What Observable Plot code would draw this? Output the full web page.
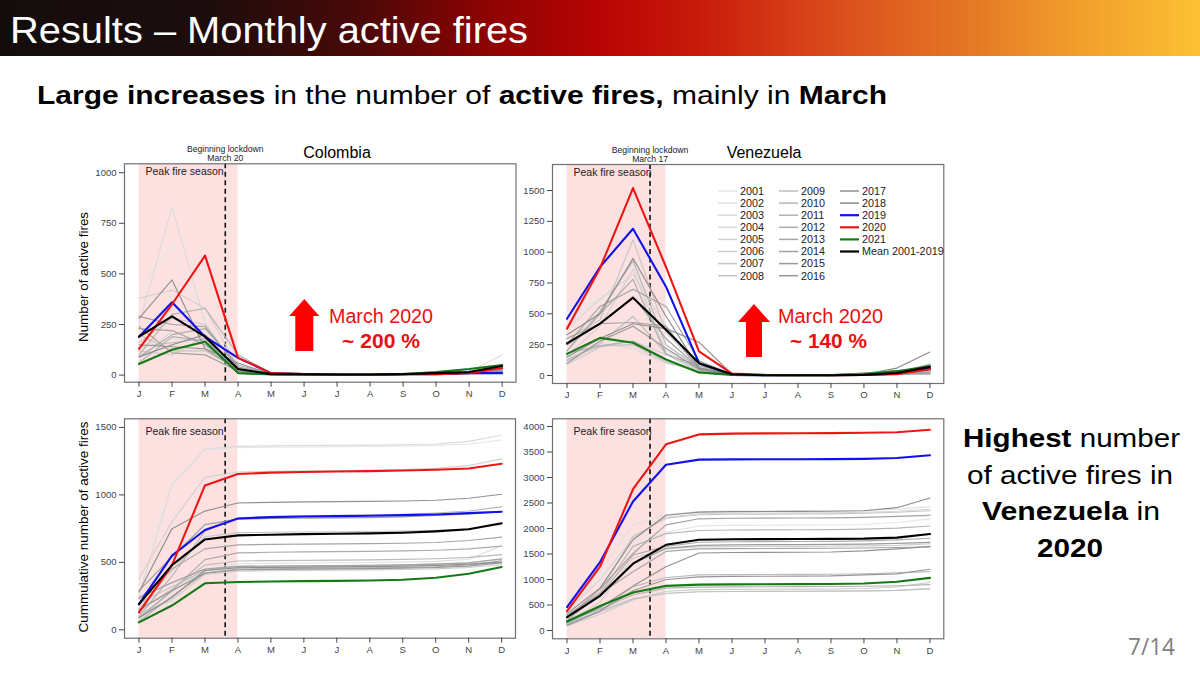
<!DOCTYPE html>
<html><head><meta charset="utf-8">
<script src="https://cdn.jsdelivr.net/npm/d3@7"></script>
<script src="https://cdn.jsdelivr.net/npm/@observablehq/plot@0.6"></script>
<style>
html,body{margin:0;padding:0;}
body{width:1200px;height:675px;position:relative;overflow:hidden;background:#fff;font-family:"Liberation Sans",Arial,sans-serif;}
#header{position:absolute;left:0;top:0;width:1200px;height:56px;
 background:linear-gradient(90deg,#140c0c 0%,#1c0d0d 17%,#4a0808 30%,#8a0303 40%,#b80404 50%,#c81a0a 58%,#d8451a 68%,#e47524 80%,#f2a22c 91%,#fcc133 100%);}
.panel{position:absolute;}
#overlay{position:absolute;left:0;top:0;pointer-events:none;}
</style></head><body>
<div id="header"></div>
<div id="p1" class="panel" style="left:60px;top:140px"></div>
<div id="p2" class="panel" style="left:500px;top:140px"></div>
<div id="p3" class="panel" style="left:60px;top:400px"></div>
<div id="p4" class="panel" style="left:500px;top:400px"></div>
<svg id="overlay" width="1200" height="675"></svg>
<script>
// ---------------- DATA ----------------
const monthLabels = ["J","F","M","A","M","J","J","A","S","O","N","D"];
const greyYears = ["2001","2002","2003","2004","2005","2006","2007","2008","2009","2010","2011","2012","2013","2014","2015","2016","2017","2018"];

// Monthly active fires, Colombia, 2001-2018 (one row per year, J..D)
const colombiaGrey = [
  [420,640,270,20,3,2,2,2,3,5,10,30],
  [100,180,170,40,3,2,2,2,3,5,15,100],
  [250,830,260,20,3,2,2,2,3,5,20,45],
  [70,220,150,20,3,2,2,2,3,5,5,10],
  [380,420,330,40,5,3,2,2,5,10,20,50],
  [120,100,190,25,3,2,2,2,3,5,10,20],
  [160,280,250,30,3,2,2,2,3,5,10,35],
  [200,120,120,30,3,2,2,2,3,5,10,25],
  [140,160,180,30,3,2,2,2,3,5,10,20],
  [100,300,330,100,10,5,3,3,5,10,15,30],
  [60,190,170,30,3,2,2,2,3,5,15,30],
  [90,200,230,50,5,3,2,2,3,5,10,20],
  [230,220,150,30,3,2,2,2,3,5,15,25],
  [240,110,100,20,3,2,2,2,3,5,10,30],
  [290,250,240,40,5,3,2,2,5,10,10,20],
  [150,140,130,25,3,2,2,2,3,5,10,25],
  [280,470,130,60,5,3,2,2,3,5,15,30],
  [90,150,200,20,3,2,2,2,3,5,10,15]
];
const colombia2019 = [190,360,190,85,10,5,3,2,5,5,10,10];
const colombia2020 = [130,350,590,85,10,5,3,3,5,5,10,35];
const colombia2021 = [55,125,165,10,3,3,2,3,5,15,30,50];
const colombiaMean = [190,290,190,30,5,4,3,3,5,10,15,45];

// Monthly active fires, Venezuela, 2001-2018
const venezuelaGrey = [
  [400,650,680,200,120,10,3,2,3,10,40,70],
  [560,600,910,200,60,10,3,2,3,10,20,50],
  [140,260,220,100,40,5,3,2,3,5,10,40],
  [380,620,820,400,70,10,3,2,3,10,20,40],
  [160,400,860,180,40,5,3,2,3,5,10,30],
  [90,230,280,170,30,5,3,2,3,10,30,90],
  [300,450,1100,350,70,10,3,2,3,10,20,30],
  [130,240,250,110,30,5,2,2,3,5,10,30],
  [120,260,480,180,50,5,3,2,3,10,20,20],
  [200,520,930,250,60,10,3,2,3,10,20,40],
  [180,240,280,130,20,5,3,2,3,5,10,20],
  [200,500,780,170,80,10,3,2,3,10,20,30],
  [300,420,430,400,50,5,3,2,3,5,10,10],
  [250,560,700,560,120,10,3,2,3,10,20,20],
  [250,420,640,300,60,10,3,2,3,5,15,20],
  [100,280,400,220,50,10,3,2,5,20,20,90],
  [150,300,420,380,270,10,3,2,5,20,40,50],
  [330,500,950,480,60,10,3,2,3,10,60,190]
];
const venezuela2019 = [460,880,1190,720,100,5,2,2,2,5,15,55];
const venezuela2020 = [380,870,1520,880,195,15,5,3,3,5,10,50];
const venezuela2021 = [175,305,265,130,25,5,2,2,3,10,35,75];
const venezuelaMean = [260,420,630,370,100,10,2,2,2,5,20,70];

const highlightNames = ["2019","2020","2021","Mean 2001-2019"];
const highlightColors = ["#1010f0","#ee1515","#157a15","#000000"];

const peakSeason = [{from: 0, to: 3}];            // J .. A (month index)
const lockdownDay = {Colombia: 20, Venezuela: 17}; // March day
const yTicksMonthlyCol = [0,250,500,750,1000];
const yTicksMonthlyVen = [0,250,500,750,1000,1250,1500];
const yTicksCumCol = [0,500,1000,1500];
const yTicksCumVen = [0,500,1000,1500,2000,2500,3000,3500,4000];

// ---------------- DRAWING ----------------
const greyShade = i => d3.interpolateRgb("#e6e6e6", "#8c8c8c")(i / (greyYears.length - 1));
const lockX = day => 2 + (day - 1) / 31;

function drawPanel(cfg) {
  const toV = arr => cfg.cumulative ? Array.from(d3.cumsum(arr)) : arr;
  const marks = [];
  marks.push(Plot.rect(peakSeason, {x1: "from", x2: "to", fill: "#fde1e1"}));
  marks.push(Plot.ruleX([lockX(cfg.day)], {stroke: "#111", strokeWidth: 1.6, strokeDasharray: "5,3.5"}));
  cfg.grey.forEach((arr, i) => {
    const rows = toV(arr).map((v, m) => ({m, v}));
    marks.push(Plot.line(rows, {x: "m", y: "v", stroke: greyShade(i), strokeWidth: 1.15}));
  });
  cfg.colored.forEach((arr, i) => {
    const rows = toV(arr).map((v, m) => ({m, v}));
    marks.push(Plot.line(rows, {x: "m", y: "v", stroke: highlightColors[i], strokeWidth: 2.1}));
  });
  marks.push(Plot.frame({stroke: "#707070", strokeWidth: 1.2}));
  marks.push(Plot.axisX(d3.range(12), {tickFormat: i => monthLabels[i], tickSize: 5, tickPadding: 3, label: null, fontSize: 9.5}));
  marks.push(Plot.axisY(cfg.yTicks, {tickFormat: d => String(d), tickSize: 5, tickPadding: 3, label: null, fontSize: 9.5}));
  marks.push(Plot.text(["Peak fire season"], {frameAnchor: "top-left", dx: 21, dy: cfg.peakDy, textAnchor: "start", lineAnchor: "top", fontSize: 10.5, fill: "#222"}));
  if (cfg.lockText) {
    marks.push(Plot.text([{x: lockX(cfg.day), t: cfg.lockText}], {x: "x", text: "t", frameAnchor: "top", lineAnchor: "bottom", dy: -3, lineHeight: 1.0, fontSize: 8.6, fill: "#222"}));
  }
  const svg = Plot.plot({
    width: cfg.width, height: cfg.height,
    marginLeft: cfg.ml, marginRight: cfg.mr, marginTop: cfg.mt, marginBottom: cfg.mb,
    x: {domain: [-0.44, 11.42]},
    y: {domain: cfg.yDomain},
    style: {fontFamily: "'Liberation Sans', Arial, sans-serif", fontSize: "9.5px", color: "#444", background: "transparent", overflow: "visible"},
    marks
  });
  document.getElementById(cfg.el).appendChild(svg);
}

drawPanel({el: "p1", width: 460, height: 265, ml: 64, mr: 4.5, mt: 23.3, mb: 23.3, yDomain: [-35, 1044], yTicks: yTicksMonthlyCol,
  grey: colombiaGrey, colored: [colombia2019, colombia2020, colombia2021, colombiaMean], cumulative: false,
  day: lockdownDay.Colombia, lockText: "Beginning lockdown\nMarch " + lockdownDay.Colombia, peakDy: 4});
drawPanel({el: "p2", width: 460, height: 265, ml: 52, mr: 16.7, mt: 24, mb: 22, yDomain: [-65, 1711], yTicks: yTicksMonthlyVen,
  grey: venezuelaGrey, colored: [venezuela2019, venezuela2020, venezuela2021, venezuelaMean], cumulative: false,
  day: lockdownDay.Venezuela, lockText: "Beginning lockdown\nMarch " + lockdownDay.Venezuela, peakDy: 4});
drawPanel({el: "p3", width: 460, height: 260, ml: 64, mr: 5, mt: 18.3, mb: 22.3, yDomain: [-62, 1564], yTicks: yTicksCumCol,
  grey: colombiaGrey, colored: [colombia2019, colombia2020, colombia2021, colombiaMean], cumulative: true,
  day: lockdownDay.Colombia, lockText: null, peakDy: 9});
drawPanel({el: "p4", width: 460, height: 260, ml: 52, mr: 16.7, mt: 18.3, mb: 21.7, yDomain: [-163, 4151], yTicks: yTicksCumVen,
  grey: venezuelaGrey, colored: [venezuela2019, venezuela2020, venezuela2021, venezuelaMean], cumulative: true,
  day: lockdownDay.Venezuela, lockText: null, peakDy: 9});

// ---------------- OVERLAY TEXT ----------------
const ov = d3.select("#overlay");
const F = "'Liberation Sans', Arial, sans-serif";
function txt(x, y, parts, o) {
  const t = ov.append("text").attr("x", x).attr("y", y)
    .attr("font-family", o.font || F).attr("font-size", o.size).attr("fill", o.fill || "#000")
    .attr("text-anchor", o.anchor || "start");
  if (o.len) t.attr("textLength", o.len).attr("lengthAdjust", "spacingAndGlyphs");
  if (o.transform) t.attr("transform", o.transform);
  parts.forEach(p => t.append("tspan").attr("font-weight", p[1] ? "bold" : "normal").text(p[0]));
  return t;
}
txt(10, 43, [["Results – Monthly active fires", 0]], {size: 37.5, fill: "#fff", len: 518});
txt(37, 104, [["Large increases", 1], [" in the number of ", 0], ["active fires,", 1], [" mainly in ", 0], ["March", 1]], {size: 25, len: 850});

txt(963, 447, [["Highest", 1], [" number", 0]], {size: 26, len: 217});
txt(967, 484, [["of active fires in", 0]], {size: 26, len: 206});
txt(982, 520, [["Venezuela", 1], [" in", 0]], {size: 26, len: 178});
txt(1037, 557, [["2020", 1]], {size: 26, len: 66});
txt(1128, 655, [["7/14", 0]], {size: 24, fill: "#7f7f7f", len: 47, font: "'Open Sans', Lato, sans-serif"});

txt(337, 158, [["Colombia", 0]], {size: 16, anchor: "middle"});
txt(764, 158, [["Venezuela", 0]], {size: 16, anchor: "middle"});
txt(0, 0, [["Number of active fires", 0]], {size: 13.5, anchor: "middle", len: 130, transform: "translate(88,277) rotate(-90)"});
txt(0, 0, [["Cummulative number of active fires", 0]], {size: 13.5, anchor: "middle", len: 211, transform: "translate(88,527) rotate(-90)"});

// Arrows & annotations
function arrow(cx, tip, headBase, bottom, halfHead, halfShaft) {
  const pts = [[cx, tip], [cx + halfHead, headBase], [cx + halfShaft, headBase], [cx + halfShaft, bottom],
    [cx - halfShaft, bottom], [cx - halfShaft, headBase], [cx - halfHead, headBase]];
  ov.append("polygon").attr("points", pts.map(p => p.join(",")).join(" ")).attr("fill", "#ff0000");
}
arrow(304.3, 299, 316, 351, 15, 9);
arrow(754, 304, 322, 357, 16, 8);
txt(329, 323, [["March 2020", 0]], {size: 20, fill: "#e81010", len: 104});
txt(342, 348, [["~ 200 %", 1]], {size: 21, fill: "#e81010", len: 78});
txt(778, 323, [["March 2020", 0]], {size: 20, fill: "#e81010", len: 105});
txt(790, 348, [["~ 140 %", 1]], {size: 21, fill: "#e81010", len: 77});

// Legend (Venezuela monthly panel)
const legendItems = greyYears.map((y, i) => ({label: y, color: greyShade(i), w: 1.5}))
  .concat(highlightNames.map((n, i) => ({label: n, color: highlightColors[i], w: 2.2})));
const colX = [718, 779, 840];
legendItems.forEach((it, k) => {
  const col = Math.floor(k / 8), row = k % 8;
  const y = 191 + row * 12.1;
  ov.append("line").attr("x1", colX[col]).attr("x2", colX[col] + 19).attr("y1", y).attr("y2", y)
    .attr("stroke", it.color).attr("stroke-width", it.w);
  ov.append("text").attr("x", colX[col] + 22).attr("y", y + 3.8).attr("font-family", F)
    .attr("font-size", 10.8).attr("fill", "#222").text(it.label);
});
</script>
</body></html>
